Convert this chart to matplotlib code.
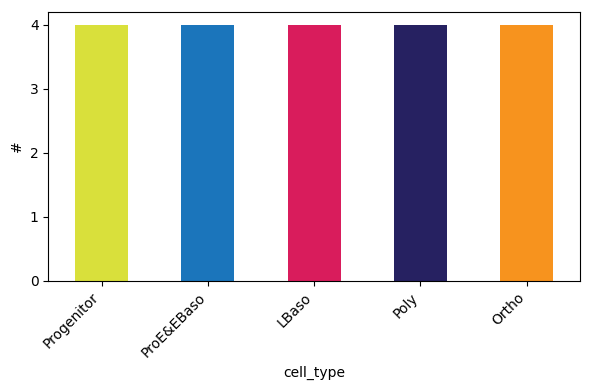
import matplotlib
matplotlib.use("Agg")
import matplotlib.pyplot as plt

categories = ["Progenitor", "ProE&EBaso", "LBaso", "Poly", "Ortho"]
counts = [4, 4, 4, 4, 4]
colors = ["#d9e03b", "#1b75bb", "#d91c5c", "#262161", "#f7931e"]

fig, ax = plt.subplots(figsize=(5.9, 3.9), dpi=100)
x = range(len(categories))
ax.bar(x, counts, width=0.5, color=colors)
ax.set_xlim(-0.5, len(categories) - 0.5)
ax.set_ylim(0, 4.2)
ax.set_xticks(list(x))
ax.set_xticklabels(categories, rotation=45, ha="right")
ax.set_yticks([0, 1, 2, 3, 4])
ax.set_xlabel("cell_type")
ax.set_ylabel("#")
fig.subplots_adjust(left=0.082, right=0.983, top=0.97, bottom=0.28)
fig.savefig("out.png", dpi=100)
